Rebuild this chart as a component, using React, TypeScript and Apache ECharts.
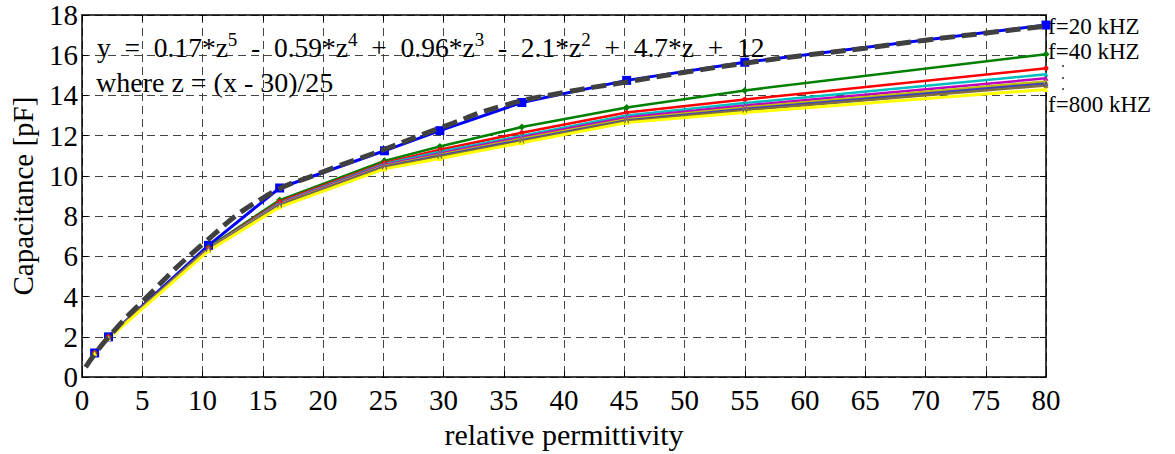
import React, { useEffect, useRef } from "react";
import * as echarts from "echarts";

// Measured permittivity points (x) shared by every frequency series
const permittivity = [1.05, 2.2, 10.5, 16.4, 25.1, 29.7, 36.5, 45.2, 55, 80];

// Capacitance [pF] for each measurement frequency
const f20k = [1.2, 2.0, 6.55, 9.4, 11.25, 12.25, 13.65, 14.75, 15.65, 17.5];
const f40k = [1.2, 2.0, 6.45, 8.8, 10.75, 11.46, 12.43, 13.4, 14.25, 16.05];
const f60k = [1.2, 2.0, 6.42, 8.72, 10.65, 11.3, 12.15, 13.15, 13.8, 15.35];
const f80k = [1.2, 1.98, 6.4, 8.66, 10.6, 11.2, 12.0, 13.0, 13.62, 15.05];
const f100k = [1.19, 1.97, 6.38, 8.62, 10.55, 11.12, 11.92, 12.9, 13.5, 14.85];
const f200k = [1.18, 1.96, 6.36, 8.58, 10.5, 11.05, 11.85, 12.82, 13.4, 14.7];
const f400k = [1.18, 1.95, 6.34, 8.55, 10.46, 11.0, 11.78, 12.76, 13.33, 14.6];
const f600k = [1.17, 1.94, 6.32, 8.52, 10.42, 10.95, 11.72, 12.72, 13.27, 14.5];
const f800k = [1.16, 1.92, 6.28, 8.45, 10.35, 10.87, 11.65, 12.65, 13.15, 14.3];

// Fitted polynomial curve, sampled along x
const fitX = [0.3, 2, 5, 10, 15, 20, 25, 30, 35, 40, 45, 50, 55, 60, 65, 70, 75, 80];
const fitY = [0.5, 1.85, 3.75, 6.6, 8.9, 10.2, 11.3, 12.45, 13.5, 14.15, 14.65, 15.15, 15.6, 16.0, 16.35, 16.75, 17.1, 17.45];

const xTicks = { min: 0, max: 80, interval: 5 };
const yTicks = { min: 0, max: 18, interval: 2 };

const FONT = "'Liberation Serif', 'Times New Roman', serif";
const SP = "\u2002"; // wide space used in the fit equation

const zip = (xs: number[], ys: number[]) => xs.map((x, i) => [x, ys[i]]);

const seriesDefs = [
  { name: "f=20 kHZ", data: f20k, color: "#0000ff", symbol: "rect", size: 9, width: 3 },
  { name: "f=40 kHZ", data: f40k, color: "#008000", symbol: "diamond", size: 7, width: 2.5 },
  { name: "f=60 kHZ", data: f60k, color: "#ff0000", symbol: "circle", size: 5, width: 2.5 },
  { name: "f=80 kHZ", data: f80k, color: "#00bfbf", symbol: "triangle", size: 5, width: 2.5 },
  { name: "f=100 kHZ", data: f100k, color: "#bf00bf", symbol: "triangle", size: 5, width: 2.5 },
  { name: "f=200 kHZ", data: f200k, color: "#bfbf00", symbol: "triangle", size: 5, width: 2.5 },
  { name: "f=400 kHZ", data: f400k, color: "#3f3fbf", symbol: "triangle", size: 5, width: 2.5 },
  { name: "f=600 kHZ", data: f600k, color: "#7f6f3f", symbol: "triangle", size: 5, width: 2.5 },
  { name: "f=800 kHZ", data: f800k, color: "#ffff00", symbol: "triangle", size: 5, width: 3 },
];

export default function App() {
  const ref = useRef<HTMLDivElement>(null);

  useEffect(() => {
    if (!ref.current) return;
    const chart = echarts.init(ref.current, null, { renderer: "svg" });

    const gridLine = { show: true, lineStyle: { color: "#444", type: [8, 5] as any, width: 1 } };
    const boxLine = { show: true, onZero: false, lineStyle: { color: "#000", width: 1.5 } };
    const tick = { show: true, inside: true, length: 6, lineStyle: { color: "#000" } };

    const lines = seriesDefs.map((s) => ({
      type: "line",
      name: s.name,
      data: zip(permittivity, s.data),
      symbol: s.symbol,
      symbolSize: s.size,
      showSymbol: true,
      lineStyle: { color: s.color, width: s.width },
      itemStyle: { color: s.color },
      z: 2,
    }));

    const eq =
      `{a|y${SP}=${SP}0.17*z}{s|5}{a|${SP}-${SP}0.59*z}{s|4}{a|${SP}+${SP}0.96*z}{s|3}` +
      `{a|${SP}-${SP}2.1*z}{s|2}{a|${SP}+${SP}4.7*z${SP}+${SP}12}`;

    const freqLabel = (text: string, top: number) => ({
      type: "text",
      left: 1048,
      top,
      style: { text, fontFamily: FONT, fontSize: 23, lineHeight: 23, fill: "#000" },
    });

    chart.setOption({
      animation: false,
      backgroundColor: "#fff",
      grid: { left: 78, right: 129, top: 15, bottom: 68, containLabel: false },
      xAxis: [
        {
          type: "value",
          ...xTicks,
          position: "bottom",
          axisLine: boxLine,
          axisTick: tick,
          axisLabel: { color: "#000", fontFamily: FONT, fontSize: 29, margin: 8 },
          splitLine: gridLine,
          name: "relative permittivity",
          nameLocation: "middle",
          nameGap: 36,
          nameTextStyle: { color: "#000", fontFamily: FONT, fontSize: 30 },
        },
        {
          type: "value",
          ...xTicks,
          position: "top",
          axisLine: boxLine,
          axisTick: tick,
          axisLabel: { show: false },
          splitLine: { show: false },
        },
      ],
      yAxis: [
        {
          type: "value",
          ...yTicks,
          position: "left",
          axisLine: boxLine,
          axisTick: tick,
          axisLabel: { color: "#000", fontFamily: FONT, fontSize: 29, margin: 4 },
          splitLine: gridLine,
          name: "Capacitance [pF]",
          nameLocation: "middle",
          nameGap: 45,
          nameTextStyle: { color: "#000", fontFamily: FONT, fontSize: 29 },
        },
        {
          type: "value",
          ...yTicks,
          position: "right",
          axisLine: boxLine,
          axisTick: tick,
          axisLabel: { show: false },
          splitLine: { show: false },
        },
      ],
      series: [
        ...lines,
        {
          type: "line",
          name: "fit",
          data: zip(fitX, fitY),
          smooth: true,
          showSymbol: false,
          symbol: "none",
          lineStyle: { color: "#404040", width: 5, type: [15, 7] },
          z: 5,
        },
      ],
      graphic: [
        {
          type: "text",
          left: 97,
          top: 30,
          style: {
            text: eq,
            rich: {
              a: { fontFamily: FONT, fontSize: 27.5, fill: "#000", lineHeight: 34 },
              s: { fontFamily: FONT, fontSize: 19, fill: "#000", lineHeight: 34, verticalAlign: "top", padding: [0, 0, 14, 0] },
            },
          },
          z: 10,
        },
        {
          type: "text",
          left: 96,
          top: 68,
          style: { text: "where z = (x - 30)/25", fontFamily: FONT, fontSize: 28, fill: "#000" },
          z: 10,
        },
        freqLabel("f=20 kHZ", 15),
        freqLabel("f=40 kHZ", 40),
        { type: "circle", shape: { cx: 1063, cy: 66, r: 0.8 }, style: { fill: "#000" } },
        { type: "circle", shape: { cx: 1063, cy: 78, r: 0.8 }, style: { fill: "#000" } },
        { type: "circle", shape: { cx: 1063, cy: 89, r: 0.8 }, style: { fill: "#000" } },
        freqLabel("f=800 kHZ", 93),
      ],
    });

    return () => chart.dispose();
  }, []);

  return (
    <div
      ref={ref}
      style={{ position: "absolute", left: 0, top: 0, width: 1175, height: 454 }}
    />
  );
}
